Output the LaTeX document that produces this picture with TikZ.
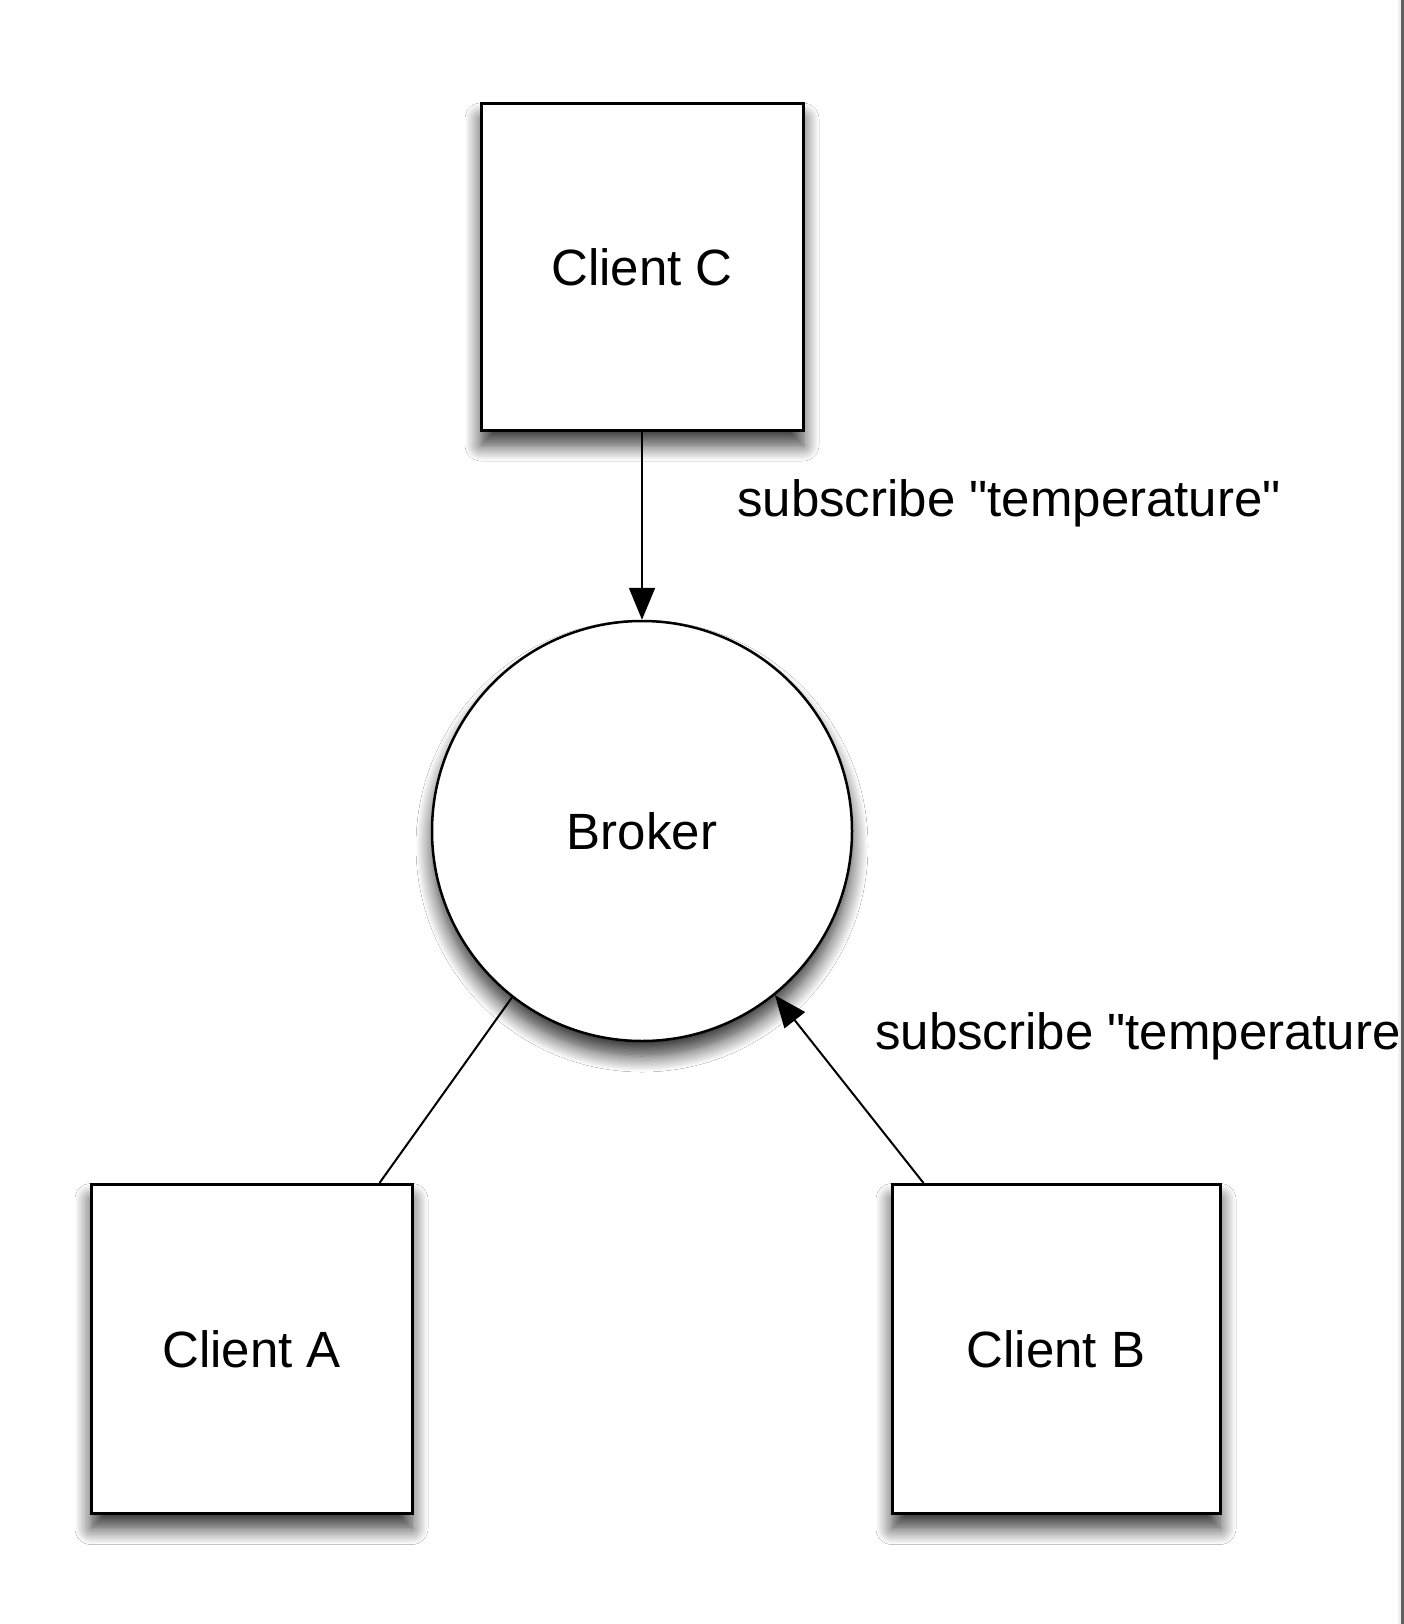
\documentclass[tikz,border=0pt]{standalone}
\usepackage{fontspec}
\setmainfont{Liberation Sans}[Ligatures=TeXOff]
\usetikzlibrary{arrows.meta,shadows.blur}
\tikzset{
	clientbox/.style={draw, line width=3pt, fill=white, minimum width=322pt, minimum height=326pt, font=\fontsize{51}{60}\selectfont,
		blur shadow={shadow xshift=0pt, shadow yshift=-15pt, shadow blur radius=16pt, shadow blur steps=12, shadow opacity=80}},
	brokercircle/.style={draw, circle, line width=2.5pt, fill=white, minimum size=420pt, font=\fontsize{51}{60}\selectfont,
		blur shadow={shadow xshift=0pt, shadow yshift=-15pt, shadow blur radius=16pt, shadow blur steps=12, shadow opacity=80}},
	msglabel/.style={anchor=base west, inner sep=0pt, font=\fontsize{51}{60}\selectfont},
	msgline/.style={line width=2pt},
	msgarrow/.style={line width=2pt, -{Triangle[length=32pt,width=26pt]}}
}

\begin{document}
\begin{tikzpicture}[x=1pt, y=-1pt]
			%%%%% START %%%%%
			
			\useasboundingbox[fill=white] (0, 0) rectangle (1404, 1624);
			
			\node[clientbox] (clientC) at (642, 267) {Client C};
			\node[brokercircle] (broker) at (642, 831) {Broker};
			\node[clientbox, minimum width=321pt, minimum height=329pt] (clientA) at (251.5, 1349) {Client A};
			\node[clientbox, minimum width=328pt, minimum height=329pt] (clientB) at (1056, 1349) {Client B};
			
			\draw[msgarrow] (clientC.south) -- (broker.north);
			\draw[msgline] ([xshift=-34pt]clientA.north east) -- (broker.232.7);
			\draw[msgarrow] ([xshift=33pt]clientB.north west) -- (broker.309.3);
			
			\node[msglabel] (subC) at (737, 516) {subscribe "temperature"};
			\node[msglabel] (subB) at (875, 1049) {subscribe "temperature"};
			
			\fill[black!6] (1398, 0) rectangle (1401, 1624);
			\fill[black!62] (1401, 0) rectangle (1404, 1624);
			
			%%%%% END %%%%%
\end{tikzpicture}
\end{document}
